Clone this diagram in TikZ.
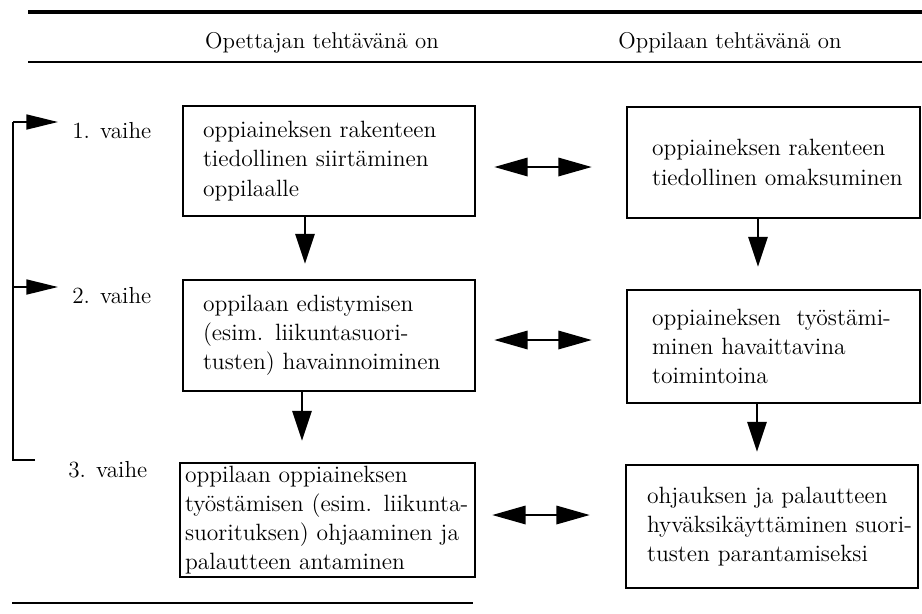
\documentclass[tikz,border=0pt]{standalone}
\usepackage{tikz}
\usetikzlibrary{arrows.meta}
\usetikzlibrary{calc}

\tikzset{
    laatikko/.style={draw, line width=1.5pt, align=left, inner ysep=0pt, font=\fontsize{13.4}{16.6}\selectfont},
    otsikko/.style={font=\fontsize{13}{15}\selectfont},
    vaihe/.style={font=\fontsize{13.2}{15}\selectfont, anchor=west, inner sep=0pt},
    alas/.style={line width=1.1pt, -{Triangle[length=17pt,width=11pt]}},
    kaksi/.style={line width=1.1pt, {Triangle[length=19pt,width=10.5pt]}-{Triangle[length=19pt,width=10.5pt]}},
    sivu/.style={line width=1.1pt, -{Triangle[length=18pt,width=8.5pt]}},
}

\begin{document}
\begin{tikzpicture}[x=0.02cm, y=-0.02cm]
            \useasboundingbox (0,0) rectangle (922,613);

            % Header rules
            \draw[line width=2.8pt] (28,12) -- (922,12);
            \draw[line width=1.7pt] (28,62) -- (922,62);
            \node[otsikko] (opettaja) at (322,43) {Opettajan tehtävänä on};
            \node[otsikko] (oppilas) at (730,43) {Oppilaan tehtävänä on};

            % Teacher column
            \node[laatikko, text width=5.04cm, inner xsep=0.4cm, minimum height=2.2cm] (opet1) at (329,161)
                {oppiaineksen rakenteen\\tiedollinen siirtäminen\\oppilaalle};
            \node[laatikko, text width=5.04cm, inner xsep=0.4cm, minimum height=2.22cm] (opet2) at (329,335.5)
                {oppilaan edistymisen\\(esim. liikuntasuori-\\tusten) havainnoiminen};
            \node[laatikko, text width=5.7cm, inner xsep=0.1cm, minimum height=2.28cm] (opet3) at (327.5,520)
                {oppilaan oppiaineksen\\työstämisen (esim. liikunta-\\suorituksen) ohjaaminen ja\\palautteen antaminen};

            % Pupil column
            \node[laatikko, text width=4.86cm, inner xsep=0.5cm, minimum height=2.22cm] (oppi1) at (773.5,162.5)
                {oppiaineksen rakenteen\\\mbox{tiedollinen omaksuminen}};
            \node[laatikko, text width=4.86cm, inner xsep=0.5cm, minimum height=2.26cm] (oppi2) at (773.5,346.5)
                {oppiaineksen\ \ työstämi-\\minen havaittavina\\toimintoina};
            \node[laatikko, text width=5.0cm, inner xsep=0.42cm, minimum height=2.46cm] (oppi3) at (772,526.5)
                {ohjauksen ja palautteen\\\mbox{hyväksikäyttäminen suori-}\\tusten parantamiseksi};

            % Phases
            \node[vaihe] (vaihe1) at (72,131) {1. vaihe};
            \node[vaihe] (vaihe2) at (72,296) {2. vaihe};
            \node[vaihe] (vaihe3) at (68,470) {3. vaihe};

            % Loop back
            \coordinate (kulma1) at (13,122);
            \coordinate (kulma2) at (13,287);
            \coordinate (silmukka) at (35,460);
            \draw[line width=1.1pt] (silmukka) -| (kulma1);
            \draw[sivu, shorten >=0.28cm] (kulma1) -- (vaihe1.west |- kulma1);
            \draw[sivu, shorten >=0.28cm] (kulma2) -- (vaihe2.west |- kulma2);

            % Downward arrows
            \draw[alas] ($(opet1.south)+(-24,0)$) -- ($(opet2.north)+(-24,-15)$);
            \draw[alas] ($(opet2.south)+(-27,0)$) -- ($(opet3.north)+(-25.5,-21)$);
            \draw[alas] ($(oppi1.south)+(-15.5,0)$) -- ($(oppi2.north)+(-15.5,-22)$);
            \draw[alas] ($(oppi2.south)+(-16.5,0)$) -- ($(oppi3.north)+(-15,-12)$);

            % Two-way arrows
            \draw[kaksi] ($(opet1.east)+(18,6)$) -- ($(oppi1.west)+(-34,4.5)$);
            \draw[kaksi] ($(opet2.east)+(18,4.5)$) -- ($(oppi2.west)+(-34,-6.5)$);
            \draw[kaksi] ($(opet3.east)+(16,-5)$) -- ($(oppi3.west)+(-35,-11.5)$);

            % Bottom rule
            \draw[line width=1.1pt] (12,603) -- (473,603);

\end{tikzpicture}
\end{document}
